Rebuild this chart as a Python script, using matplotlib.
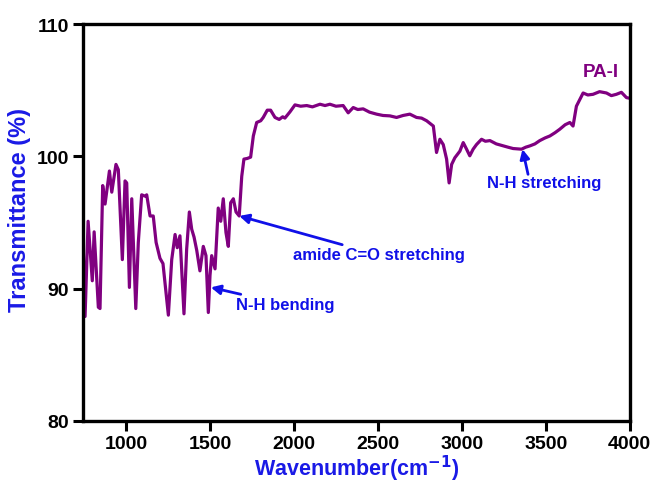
import matplotlib
matplotlib.use("Agg")
import matplotlib.pyplot as plt

# FTIR spectrum of PA-I
wavenumber = [744, 756, 774, 799, 810, 835, 845, 861, 875, 901, 915, 940, 954, 978,
              994, 1004, 1020, 1034, 1058, 1073, 1093, 1113, 1123, 1143, 1162, 1179,
              1202, 1220, 1252, 1272, 1292, 1305, 1321, 1345, 1361, 1377, 1391, 1405,
              1421, 1440, 1460, 1476, 1490, 1500, 1510, 1530, 1549, 1564, 1579, 1595,
              1609, 1623, 1639, 1655, 1674, 1689, 1702, 1722, 1742, 1758, 1778, 1802,
              1817, 1841, 1861, 1887, 1912, 1933, 1946, 1976, 2006, 2040, 2076, 2110,
              2155, 2185, 2214, 2250, 2293, 2323, 2353, 2380, 2412, 2450, 2492, 2530,
              2571, 2611, 2650, 2690, 2730, 2760, 2790, 2830, 2849, 2869, 2889, 2909,
              2924, 2939, 2958, 2988, 3008, 3028, 3047, 3067, 3087, 3117, 3140, 3167,
              3205, 3246, 3275, 3305, 3355, 3380, 3405, 3435, 3464, 3495, 3524, 3555,
              3583, 3615, 3643, 3662, 3682, 3722, 3750, 3781, 3820, 3861, 3890, 3920,
              3950, 3980, 4000]
transmittance = [93.7, 87.9, 95.1, 90.6, 94.3, 88.6, 88.5, 97.8, 96.4, 98.9, 97.3, 99.4, 99.0, 92.2,
                 98.15, 98.0, 90.1, 96.8, 88.5, 93.5, 97.1, 97.0, 97.1, 95.5, 95.5, 93.5,
                 92.3, 91.9, 88.0, 92.2, 94.1, 93.1, 94.0, 88.1, 93.0, 95.8, 94.5, 93.9,
                 92.9, 91.35, 93.2, 92.5, 88.2, 91.0, 92.5, 91.5, 96.1, 95.1, 96.8, 94.25,
                 93.2, 96.5, 96.8, 95.8, 95.5, 98.5, 99.8, 99.85, 99.95, 101.55, 102.57, 102.7,
                 102.95, 103.5, 103.5, 102.95, 102.8, 103.0, 102.9, 103.37, 103.9, 103.8, 103.85, 103.75,
                 103.95, 103.85, 103.95, 103.8, 103.85, 103.3, 103.7, 103.55, 103.6, 103.35, 103.2, 103.1,
                 103.07, 102.95, 103.1, 103.2, 102.95, 102.9, 102.7, 102.3, 100.3, 101.3, 100.9, 99.8,
                 98.0, 99.4, 99.9, 100.4, 101.05, 100.55, 100.05, 100.55, 100.9, 101.3, 101.15, 101.2,
                 100.95, 100.8, 100.7, 100.6, 100.55, 100.7, 100.8, 100.95, 101.2, 101.4, 101.55, 101.8,
                 102.06, 102.4, 102.57, 102.3, 103.8, 104.8, 104.65, 104.7, 104.9, 104.8, 104.6, 104.7,
                 104.85, 104.45, 104.4]

plt.rcParams['font.family'] = ['Liberation Sans', 'DejaVu Sans']
plt.rcParams['font.weight'] = 'bold'

fig = plt.figure(figsize=(6.54, 4.85), dpi=100)
ax = fig.add_axes([0.127, 0.130, 0.836, 0.818])

ax.plot(wavenumber, transmittance, color='#800080', lw=2.3)

ax.set_xlim(744, 4000)
ax.set_ylim(80, 110)
ax.set_xticks([1000, 1500, 2000, 2500, 3000, 3500, 4000])
ax.set_yticks([80, 90, 100, 110])
ax.tick_params(axis='both', direction='out', length=7, width=2.2, labelsize=14, pad=3)
for lbl in ax.get_xticklabels() + ax.get_yticklabels():
    lbl.set_fontweight('bold')
for sp in ax.spines.values():
    sp.set_linewidth(2.4)

ax.set_xlabel('Wavenumber(cm$^{\\mathbf{-1}}$)', color='#1a1ae6', fontsize=15.5,
              fontweight='bold', labelpad=1)
ax.set_ylabel('Transmittance (%)', color='#1a1ae6', fontsize=17,
              fontweight='bold', va='center')
ax.yaxis.set_label_coords(-0.117, 0.534)

blue = '#1010e8'
arrow = dict(arrowstyle='-|>', color=blue, lw=2, mutation_scale=14, shrinkA=0, shrinkB=0)
ax.annotate('amide C=O stretching', xy=(1674, 95.5), xytext=(1995, 92.55),
            color=blue, fontsize=12, fontweight='bold', va='center', arrowprops=arrow)
ax.annotate('N-H bending', xy=(1505, 90.1), xytext=(1655, 88.8),
            color=blue, fontsize=12, fontweight='bold', va='center', arrowprops=arrow)
ax.annotate('', xy=(3361, 100.55), xytext=(3394, 98.65), arrowprops=arrow)
ax.text(3490, 98.0, 'N-H stretching', color=blue, fontsize=12, fontweight='bold',
        ha='center', va='center')
ax.text(3827, 106.4, 'PA-I', color='#800080', fontsize=13.5, fontweight='bold',
        ha='center', va='center')

fig.savefig('out.png', dpi=100)
